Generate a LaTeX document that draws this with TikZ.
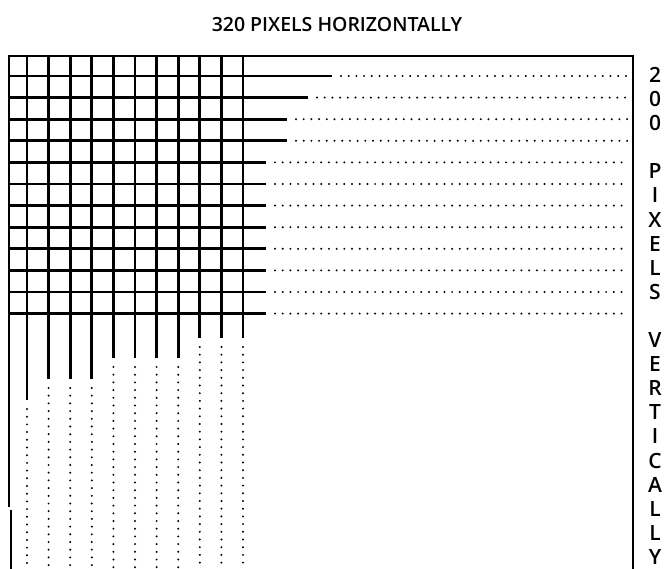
\documentclass[tikz,border=0pt]{standalone}
\usepackage{fontspec}
\setmainfont{Open Sans}[BoldFont={Open Sans Semibold}]
\begin{document}
\begin{tikzpicture}[x=1pt,y=-1pt,
  gridline/.style={line width=2.9pt},
  frameline/.style={line width=2.4pt},
  dotline/.style={line width=2.2pt, line cap=round, dash pattern=on 0pt off 7.7pt},
  lbl/.style={font=\fontsize{21}{21}\selectfont\bfseries, inner sep=0pt},
  ttl/.style={font=\fontsize{19.5}{20}\selectfont\bfseries, inner sep=0pt}]
\useasboundingbox (0,0) rectangle (670,569);
% horizontal rows
\foreach \k/\e in {0/332,1/308,2/287,3/287,4/266,5/266,6/266,7/266,8/266,9/266,10/266,11/266} {
  \pgfmathsetmacro\yy{76+21.6*\k}
  \draw[gridline] (9,\yy) -- (\e,\yy);
  \draw[dotline] (\e+9,\yy) -- (628,\yy);
}
% vertical columns
\foreach \k/\e in {0/400,1/379,2/379,3/379,4/358,5/358,6/358,7/358,8/338,9/338,10/338} {
  \pgfmathsetmacro\xx{27+21.6*\k}
  \draw[gridline] (\xx,56) -- (\xx,\e);
  \draw[dotline] (\xx,\e+9) -- (\xx,568);
}
% frame
\draw[frameline] (8,56) -- (633,56) -- (633,569);
\draw[gridline] (9,56) -- (9,507);
\draw[gridline] (11,510) -- (11,569);
% title
\node[ttl] (title) at (337,25) {320 PIXELS HORIZONTALLY};
% vertical label
\foreach \i/\c in {0/2,1/0,2/0,4/P,5/I,6/X,7/E,8/L,9/S,11/V,12/E,13/R,14/T,15/I,16/C,17/A,18/L,19/L,20/Y} {
  \pgfmathsetmacro\ly{75+24.1*\i}
  \node[lbl] (v\i) at (655,\ly) {\c};
}
\end{tikzpicture}
\end{document}
